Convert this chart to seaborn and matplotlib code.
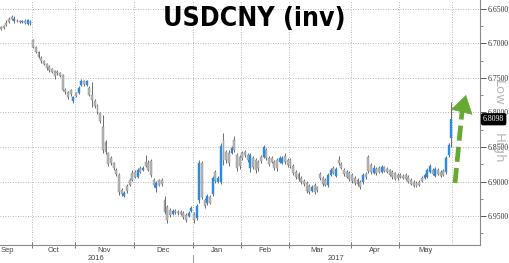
import numpy as np
import pandas as pd
import matplotlib
matplotlib.use("Agg")
import matplotlib.pyplot as plt
import seaborn as sns
from matplotlib.transforms import blended_transform_factory as btf
from matplotlib.ticker import FormatStrFormatter, MultipleLocator

# ---------------- data (USDCNY daily OHLC, trading-day order) ----------------
open_ = [
    6.676, 6.675, 6.670, 6.665, 6.662, 6.668, 6.667, 6.667, 6.669, 6.667, 6.672, 6.672,
    6.695, 6.705, 6.712, 6.721, 6.726, 6.730, 6.734, 6.737, 6.740, 6.741, 6.743, 6.746, 6.768, 6.770, 6.768, 6.784,
    6.772, 6.772, 6.760, 6.754, 6.760, 6.765, 6.775, 6.784, 6.791, 6.801, 6.821, 6.843, 6.859, 6.866, 6.873, 6.884, 6.891, 6.913, 6.921, 6.907, 6.898, 6.888,
    6.886, 6.894, 6.881, 6.884, 6.872, 6.873, 6.870, 6.898, 6.910, 6.898, 6.898, 6.927, 6.937, 6.942, 6.947, 6.943, 6.944, 6.944, 6.946, 6.949, 6.950, 6.943,
    6.947, 6.953, 6.927, 6.873, 6.927, 6.931, 6.923, 6.918, 6.886, 6.901, 6.901, 6.840, 6.857, 6.859, 6.859, 6.840, 6.862, 6.865,
    6.859, 6.857, 6.862, 6.881, 6.866, 6.869, 6.872, 6.865, 6.865, 6.855, 6.866, 6.866, 6.872, 6.869, 6.872, 6.873, 6.863, 6.869,
    6.869, 6.878, 6.886, 6.889, 6.895, 6.899, 6.902, 6.907, 6.914, 6.905, 6.908, 6.889, 6.895, 6.898, 6.905, 6.891, 6.881, 6.892, 6.869, 6.875, 6.884, 6.886, 6.888,
    6.891, 6.895, 6.898, 6.901, 6.901, 6.889, 6.865, 6.876, 6.888, 6.882, 6.881, 6.886, 6.879, 6.882, 6.884, 6.886, 6.888, 6.891,
    6.891, 6.892, 6.891, 6.894, 6.898, 6.901, 6.902, 6.901, 6.895, 6.895, 6.894, 6.886, 6.884, 6.892, 6.884, 6.886, 6.885, 6.886, 6.862, 6.837,
]
close_ = [
    6.679, 6.678, 6.673, 6.669, 6.664, 6.664, 6.668, 6.669, 6.667, 6.670, 6.666, 6.667,
    6.705, 6.712, 6.720, 6.726, 6.730, 6.736, 6.739, 6.741, 6.747, 6.743, 6.747, 6.768, 6.770, 6.778, 6.773, 6.778,
    6.776, 6.765, 6.754, 6.759, 6.754, 6.775, 6.782, 6.791, 6.799, 6.813, 6.855, 6.857, 6.875, 6.873, 6.881, 6.889, 6.915, 6.918, 6.917, 6.914, 6.905, 6.898,
    6.894, 6.884, 6.886, 6.881, 6.878, 6.884, 6.891, 6.905, 6.902, 6.905, 6.904, 6.944, 6.956, 6.949, 6.943, 6.944, 6.946, 6.947, 6.952, 6.956, 6.946, 6.939,
    6.956, 6.936, 6.873, 6.923, 6.936, 6.921, 6.931, 6.895, 6.899, 6.895, 6.849, 6.869, 6.869, 6.873, 6.852, 6.855, 6.881, 6.878,
    6.866, 6.862, 6.869, 6.862, 6.879, 6.884, 6.881, 6.870, 6.850, 6.866, 6.875, 6.872, 6.881, 6.881, 6.866, 6.866, 6.872, 6.876,
    6.878, 6.888, 6.894, 6.897, 6.901, 6.904, 6.914, 6.915, 6.908, 6.915, 6.913, 6.895, 6.904, 6.905, 6.891, 6.884, 6.888, 6.882, 6.873, 6.881, 6.889, 6.894, 6.897,
    6.899, 6.902, 6.904, 6.908, 6.891, 6.894, 6.885, 6.886, 6.881, 6.888, 6.886, 6.879, 6.885, 6.886, 6.891, 6.894, 6.897, 6.895,
    6.894, 6.895, 6.897, 6.901, 6.904, 6.907, 6.907, 6.905, 6.899, 6.891, 6.884, 6.878, 6.889, 6.882, 6.889, 6.892, 6.891, 6.866, 6.847, 6.8098,
]
low_ = [
    6.675, 6.673, 6.666, 6.662, 6.659, 6.660, 6.665, 6.666, 6.666, 6.665, 6.665, 6.666,
    6.694, 6.704, 6.711, 6.718, 6.724, 6.728, 6.731, 6.736, 6.739, 6.739, 6.741, 6.744, 6.765, 6.769, 6.766, 6.776,
    6.770, 6.762, 6.752, 6.753, 6.753, 6.762, 6.756, 6.781, 6.788, 6.799, 6.804, 6.840, 6.857, 6.863, 6.872, 6.881, 6.888, 6.910, 6.914, 6.904, 6.895, 6.884,
    6.884, 6.881, 6.878, 6.878, 6.862, 6.869, 6.868, 6.895, 6.899, 6.897, 6.895, 6.921, 6.934, 6.939, 6.940, 6.940, 6.942, 6.942, 6.943, 6.946, 6.943, 6.936,
    6.944, 6.933, 6.869, 6.870, 6.924, 6.918, 6.920, 6.892, 6.884, 6.892, 6.844, 6.830, 6.855, 6.855, 6.849, 6.834, 6.859, 6.862,
    6.856, 6.855, 6.859, 6.859, 6.863, 6.866, 6.869, 6.862, 6.847, 6.852, 6.863, 6.863, 6.869, 6.866, 6.863, 6.863, 6.859, 6.866,
    6.866, 6.875, 6.884, 6.886, 6.892, 6.897, 6.899, 6.904, 6.905, 6.902, 6.907, 6.886, 6.892, 6.895, 6.888, 6.881, 6.878, 6.879, 6.863, 6.872, 6.881, 6.884, 6.885,
    6.888, 6.892, 6.895, 6.898, 6.888, 6.886, 6.862, 6.873, 6.876, 6.879, 6.878, 6.876, 6.878, 6.879, 6.882, 6.884, 6.886, 6.888,
    6.888, 6.889, 6.888, 6.891, 6.895, 6.898, 6.899, 6.898, 6.892, 6.888, 6.881, 6.875, 6.881, 6.879, 6.881, 6.884, 6.882, 6.863, 6.844, 6.785,
]
high_ = [
    6.681, 6.679, 6.675, 6.670, 6.666, 6.670, 6.669, 6.670, 6.670, 6.672, 6.673, 6.673,
    6.707, 6.714, 6.721, 6.728, 6.731, 6.739, 6.741, 6.743, 6.752, 6.746, 6.749, 6.769, 6.773, 6.781, 6.776, 6.786,
    6.778, 6.773, 6.762, 6.762, 6.762, 6.776, 6.792, 6.794, 6.802, 6.815, 6.859, 6.860, 6.878, 6.876, 6.884, 6.892, 6.920, 6.921, 6.923, 6.917, 6.907, 6.899,
    6.895, 6.895, 6.888, 6.885, 6.879, 6.885, 6.894, 6.908, 6.915, 6.907, 6.907, 6.947, 6.960, 6.952, 6.949, 6.947, 6.949, 6.949, 6.955, 6.959, 6.952, 6.944,
    6.960, 6.956, 6.931, 6.926, 6.939, 6.934, 6.933, 6.921, 6.902, 6.902, 6.904, 6.876, 6.873, 6.878, 6.860, 6.857, 6.885, 6.882,
    6.869, 6.865, 6.872, 6.886, 6.882, 6.888, 6.885, 6.873, 6.866, 6.869, 6.878, 6.873, 6.884, 6.885, 6.873, 6.875, 6.875, 6.879,
    6.881, 6.891, 6.897, 6.899, 6.904, 6.907, 6.917, 6.918, 6.915, 6.918, 6.915, 6.898, 6.907, 6.907, 6.908, 6.892, 6.889, 6.894, 6.876, 6.882, 6.892, 6.895, 6.899,
    6.902, 6.905, 6.907, 6.911, 6.904, 6.897, 6.888, 6.889, 6.889, 6.891, 6.888, 6.888, 6.886, 6.888, 6.892, 6.897, 6.898, 6.898,
    6.895, 6.897, 6.898, 6.902, 6.905, 6.908, 6.908, 6.907, 6.901, 6.897, 6.895, 6.888, 6.891, 6.894, 6.891, 6.894, 6.892, 6.889, 6.865, 6.850,
]

month_labels = ["Sep", "Oct", "Nov", "Dec", "Jan", "Feb", "Mar", "Apr", "May"]
month_label_pos = [2.3, 19.5, 38.5, 60.5, 80.5, 98.5, 118.0, 139.5, 158.4]
month_bounds = [11.5, 27.5, 49.5, 71.5, 89.5, 107.5, 130.5, 148.5]
last_gridline = 168.3
year_labels = ["2016", "2017"]
year_label_pos = [35.5, 125.0]
year_break = 71.5
y_ticks = [6.65, 6.70, 6.75, 6.80, 6.85, 6.90, 6.95]
title = "USDCNY (inv)"

# ---------------- figure ----------------
sns.set_theme(style="white")
plt.rcParams["font.family"] = ["DejaVu Sans"]

W, H = 509, 263
fig = plt.figure(figsize=(W / 100, H / 100), dpi=100)
fig.patch.set_facecolor("white")
ax = fig.add_axes([0, 18 / H, 480 / W, 245 / H])
ax.set_facecolor("white")

n = len(open_)
df = pd.DataFrame({"idx": np.arange(n), "open": open_, "close": close_,
                   "low": low_, "high": high_})
df["bottom"] = df[["open", "close"]].min(axis=1)
df["height"] = (df["close"] - df["open"]).abs().clip(lower=0.0007)
df["dir"] = np.where(df["close"] < df["open"], "down", "up")

# grid
grid_kw = dict(color="#a0a0a0", lw=0.6, ls=(0, (1, 2)), zorder=0)
for y in y_ticks:
    ax.axhline(y, **grid_kw)
for x in month_bounds + [last_gridline]:
    ax.axvline(x, **grid_kw)

# wicks
ax.vlines(df["idx"], df["low"], df["high"], color="#555555", lw=0.6, zorder=2)

# bodies
styles = {"up": ("#b8b8b8", "#8a8a8a"), "down": ("#2b8be3", "#2b8be3")}
for d, (fc, ec) in styles.items():
    sub = df[df["dir"] == d].sort_values("idx")
    sns.barplot(data=sub, x="idx", y="height", bottom=sub["bottom"].values,
                native_scale=True, color=fc, saturation=1, edgecolor=ec,
                linewidth=0.3, width=0.72, errorbar=None, ax=ax, zorder=3)

ax.set_xlabel("")
ax.set_ylabel("")
ax.set_xlim(-0.37, 178.7)
ax.set_ylim(6.992, 6.637)

# y axis right
ax.yaxis.tick_right()
ax.set_yticks(y_ticks)
ax.yaxis.set_minor_locator(MultipleLocator(0.025))
ax.yaxis.set_major_formatter(FormatStrFormatter("%.4f"))
ax.tick_params(axis="y", which="major", direction="out", length=4, width=0.7,
               color="#555555", labelsize=5.6, labelcolor="#333333", pad=1.5,
               right=True, left=False)
ax.tick_params(axis="y", which="minor", direction="out", length=2, width=0.6,
               color="#777777", right=True, left=False)
for lab in ax.get_yticklabels():
    lab.set_fontfamily("Liberation Serif")

# x axis
ax.set_xticks(month_bounds)
ax.set_xticklabels([])
ax.tick_params(axis="x", which="major", direction="inout", length=5, width=0.7,
               color="#777777", bottom=True)

for s in ["left", "top"]:
    ax.spines[s].set_visible(False)
for s in ["right", "bottom"]:
    ax.spines[s].set_color("#8a8a8a")
    ax.spines[s].set_linewidth(0.8)

tr = btf(ax.transData, ax.transAxes)
for lab, pos in zip(month_labels, month_label_pos):
    ax.text(pos, -0.021, lab, transform=tr, ha="center", va="center",
            fontsize=5.4, color="#444444", family="Liberation Sans")
for lab, pos in zip(year_labels, year_label_pos):
    ax.text(pos, -0.054, lab, transform=tr, ha="center", va="center",
            fontsize=5.4, color="#444444", family="Liberation Sans")
ax.plot([year_break, year_break], [-0.04, -0.08], transform=tr, clip_on=False,
        color="#a0a0a0", lw=0.8)

# title
fig.text(254 / W, 1 - 19 / H, title, ha="center", va="center", fontsize=19.2,
         weight="bold", family="DejaVu Sans", stretch="condensed", color="black")

# last price tag
ax.text(1.0 + 3 / 480, close_[-1], f"{close_[-1]:.4f}",
        transform=btf(ax.transAxes, ax.transData), ha="left", va="center",
        fontsize=5.6, color="white", family="Liberation Serif", clip_on=False,
        zorder=10, bbox=dict(boxstyle="round,pad=0.18", fc="black", ec="black"))

# Low / High legend text
fig.text(498 / W, 1 - 93 / H, "Low", rotation=270, ha="center", va="center",
         fontsize=9.5, color="#b8b8b8")
fig.text(498 / W, 1 - 148 / H, "High", rotation=270, ha="center", va="center",
         fontsize=9.5, color="#b8b8b8")

# green dashed arrow
green = "#66aa33"
ax.plot([455 / 480, 462.2 / 480], [1 - 183 / 245, 1 - 110 / 245],
        transform=ax.transAxes, color=green, lw=3.4, ls=(0, (3.2, 1.3)),
        solid_capstyle="butt", dash_capstyle="butt", zorder=6)
ax.annotate("", xy=(466 / 480, 1 - 95 / 245), xytext=(461.8 / 480, 1 - 112 / 245),
            xycoords="axes fraction", textcoords="axes fraction", zorder=7,
            arrowprops=dict(arrowstyle="-|>,head_length=1.2,head_width=0.75",
                            color=green, lw=0.5, mutation_scale=10,
                            shrinkA=0, shrinkB=0))

fig.savefig("out.png", dpi=100, facecolor="white")
